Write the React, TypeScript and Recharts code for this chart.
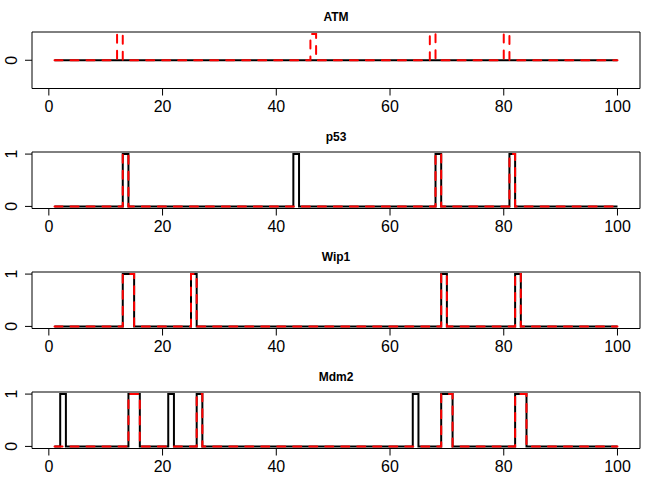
import React from "react";
import { LineChart, Line, XAxis, YAxis } from "recharts";

// time steps 1..100 on the x axis
const steps = Array.from({ length: 100 }, (_, i) => i + 1);
const xTicks = [0, 20, 40, 60, 80, 100];

// black = solid series, red = dashed series, one row per 10 steps
const atmBlack = [
  0, 0, 0, 0, 0, 0, 0, 0, 0, 0,
  0, 0, 0, 0, 0, 0, 0, 0, 0, 0,
  0, 0, 0, 0, 0, 0, 0, 0, 0, 0,
  0, 0, 0, 0, 0, 0, 0, 0, 0, 0,
  0, 0, 0, 0, 0, 0, 0, 0, 0, 0,
  0, 0, 0, 0, 0, 0, 0, 0, 0, 0,
  0, 0, 0, 0, 0, 0, 0, 0, 0, 0,
  0, 0, 0, 0, 0, 0, 0, 0, 0, 0,
  0, 0, 0, 0, 0, 0, 0, 0, 0, 0,
  0, 0, 0, 0, 0, 0, 0, 0, 0, 0,
];
const atmRed = [
  0, 0, 0, 0, 0, 0, 0, 0, 0, 0,
  0, 1, 0, 0, 0, 0, 0, 0, 0, 0,
  0, 0, 0, 0, 0, 0, 0, 0, 0, 0,
  0, 0, 0, 0, 0, 0, 0, 0, 0, 0,
  0, 0, 0, 0, 0, 1, 0, 0, 0, 0,
  0, 0, 0, 0, 0, 0, 0, 0, 0, 0,
  0, 0, 0, 0, 0, 0, 1, 0, 0, 0,
  0, 0, 0, 0, 0, 0, 0, 0, 0, 1,
  0, 0, 0, 0, 0, 0, 0, 0, 0, 0,
  0, 0, 0, 0, 0, 0, 0, 0, 0, 0,
];

const p53Black = [
  0, 0, 0, 0, 0, 0, 0, 0, 0, 0,
  0, 0, 1, 0, 0, 0, 0, 0, 0, 0,
  0, 0, 0, 0, 0, 0, 0, 0, 0, 0,
  0, 0, 0, 0, 0, 0, 0, 0, 0, 0,
  0, 0, 1, 0, 0, 0, 0, 0, 0, 0,
  0, 0, 0, 0, 0, 0, 0, 0, 0, 0,
  0, 0, 0, 0, 0, 0, 0, 1, 0, 0,
  0, 0, 0, 0, 0, 0, 0, 0, 0, 0,
  1, 0, 0, 0, 0, 0, 0, 0, 0, 0,
  0, 0, 0, 0, 0, 0, 0, 0, 0, 0,
];
const p53Red = [
  0, 0, 0, 0, 0, 0, 0, 0, 0, 0,
  0, 0, 1, 0, 0, 0, 0, 0, 0, 0,
  0, 0, 0, 0, 0, 0, 0, 0, 0, 0,
  0, 0, 0, 0, 0, 0, 0, 0, 0, 0,
  0, 0, 0, 0, 0, 0, 0, 0, 0, 0,
  0, 0, 0, 0, 0, 0, 0, 0, 0, 0,
  0, 0, 0, 0, 0, 0, 0, 1, 0, 0,
  0, 0, 0, 0, 0, 0, 0, 0, 0, 0,
  1, 0, 0, 0, 0, 0, 0, 0, 0, 0,
  0, 0, 0, 0, 0, 0, 0, 0, 0, 0,
];

const wip1Black = [
  0, 0, 0, 0, 0, 0, 0, 0, 0, 0,
  0, 0, 1, 1, 0, 0, 0, 0, 0, 0,
  0, 0, 0, 0, 1, 0, 0, 0, 0, 0,
  0, 0, 0, 0, 0, 0, 0, 0, 0, 0,
  0, 0, 0, 0, 0, 0, 0, 0, 0, 0,
  0, 0, 0, 0, 0, 0, 0, 0, 0, 0,
  0, 0, 0, 0, 0, 0, 0, 0, 1, 0,
  0, 0, 0, 0, 0, 0, 0, 0, 0, 0,
  0, 1, 0, 0, 0, 0, 0, 0, 0, 0,
  0, 0, 0, 0, 0, 0, 0, 0, 0, 0,
];
const wip1Red = [
  0, 0, 0, 0, 0, 0, 0, 0, 0, 0,
  0, 0, 1, 1, 0, 0, 0, 0, 0, 0,
  0, 0, 0, 0, 1, 0, 0, 0, 0, 0,
  0, 0, 0, 0, 0, 0, 0, 0, 0, 0,
  0, 0, 0, 0, 0, 0, 0, 0, 0, 0,
  0, 0, 0, 0, 0, 0, 0, 0, 0, 0,
  0, 0, 0, 0, 0, 0, 0, 0, 1, 0,
  0, 0, 0, 0, 0, 0, 0, 0, 0, 0,
  0, 1, 0, 0, 0, 0, 0, 0, 0, 0,
  0, 0, 0, 0, 0, 0, 0, 0, 0, 0,
];

const mdm2Black = [
  0, 1, 0, 0, 0, 0, 0, 0, 0, 0,
  0, 0, 0, 1, 1, 0, 0, 0, 0, 0,
  1, 0, 0, 0, 0, 1, 0, 0, 0, 0,
  0, 0, 0, 0, 0, 0, 0, 0, 0, 0,
  0, 0, 0, 0, 0, 0, 0, 0, 0, 0,
  0, 0, 0, 0, 0, 0, 0, 0, 0, 0,
  0, 0, 0, 1, 0, 0, 0, 0, 1, 1,
  0, 0, 0, 0, 0, 0, 0, 0, 0, 0,
  0, 1, 1, 0, 0, 0, 0, 0, 0, 0,
  0, 0, 0, 0, 0, 0, 0, 0, 0, 0,
];
const mdm2Red = [
  0, 0, 0, 0, 0, 0, 0, 0, 0, 0,
  0, 0, 0, 1, 1, 0, 0, 0, 0, 0,
  0, 0, 0, 0, 0, 1, 0, 0, 0, 0,
  0, 0, 0, 0, 0, 0, 0, 0, 0, 0,
  0, 0, 0, 0, 0, 0, 0, 0, 0, 0,
  0, 0, 0, 0, 0, 0, 0, 0, 0, 0,
  0, 0, 0, 0, 0, 0, 0, 0, 1, 1,
  0, 0, 0, 0, 0, 0, 0, 0, 0, 0,
  0, 1, 1, 0, 0, 0, 0, 0, 0, 0,
  0, 0, 0, 0, 0, 0, 0, 0, 0, 0,
];

const FONT = "'Liberation Sans', Arial, Helvetica, sans-serif";
const W = 672;
const H = 120;
const xDomain: [number, number] = [-2.96, 103.96];

const YTick = (props: any) => {
  const { x, y, payload } = props;
  return (
    <text
      x={x}
      y={y}
      transform={`rotate(-90, ${x}, ${y})`}
      textAnchor="middle"
      fontSize={16}
      fontFamily={FONT}
      fill="#000"
    >
      {payload.value}
    </text>
  );
};

type PanelProps = {
  title: string;
  black: number[];
  red: number[];
  yTicks: number[];
  yDomain: [number, number];
};

const Panel: React.FC<PanelProps> = ({ title, black, red, yTicks, yDomain }) => {
  const data = steps.map((t, i) => ({ t, black: black[i], red: red[i] }));
  return (
    <div style={{ position: "relative", width: W, height: H }}>
      <LineChart width={W} height={H} data={data} margin={{ top: 0, right: 0, bottom: 0, left: 0 }}>
        <XAxis
          dataKey="t"
          type="number"
          domain={xDomain}
          allowDataOverflow
          ticks={xTicks}
          interval={0}
          height={31.5}
          tickSize={7}
          tickMargin={5}
          axisLine={{ stroke: "#000" }}
          tickLine={{ stroke: "#000" }}
          tick={{ fill: "#000", fontSize: 16, fontFamily: FONT }}
        />
        <XAxis
          xAxisId="top"
          orientation="top"
          dataKey="t"
          type="number"
          domain={xDomain}
          allowDataOverflow
          height={32}
          tick={false}
          tickLine={false}
          axisLine={{ stroke: "#000" }}
        />
        <YAxis
          type="number"
          domain={yDomain}
          allowDataOverflow
          ticks={yTicks}
          interval={0}
          width={32}
          tickSize={7}
          tickMargin={8}
          axisLine={{ stroke: "#000" }}
          tickLine={{ stroke: "#000" }}
          tick={<YTick />}
        />
        <YAxis
          yAxisId="right"
          orientation="right"
          type="number"
          domain={yDomain}
          allowDataOverflow
          width={32}
          tick={false}
          tickLine={false}
          axisLine={{ stroke: "#000" }}
        />
        <Line
          dataKey="black"
          type="stepAfter"
          stroke="#000"
          strokeWidth={2}
          dot={false}
          activeDot={false}
          isAnimationActive={false}
        />
        <Line
          dataKey="red"
          type="stepAfter"
          stroke="#ff0000"
          strokeWidth={2}
          strokeDasharray="8 8"
          strokeLinecap="round"
          dot={false}
          activeDot={false}
          isAnimationActive={false}
        />
      </LineChart>
      <div
        style={{
          position: "absolute",
          left: 0,
          top: 10.5,
          width: W,
          textAlign: "center",
          fontFamily: FONT,
          fontWeight: "bold",
          fontSize: 12,
          lineHeight: "12px",
          color: "#000",
          pointerEvents: "none",
        }}
      >
        {title}
      </div>
    </div>
  );
};

export default function App() {
  return (
    <div style={{ position: "absolute", left: 0, top: 0, width: W, height: 480, background: "#fff" }}>
      <Panel title="ATM" black={atmBlack} red={atmRed} yTicks={[0]} yDomain={[-1.08, 1.08]} />
      <Panel title="p53" black={p53Black} red={p53Red} yTicks={[0, 1]} yDomain={[-0.04, 1.04]} />
      <Panel title="Wip1" black={wip1Black} red={wip1Red} yTicks={[0, 1]} yDomain={[-0.04, 1.04]} />
      <Panel title="Mdm2" black={mdm2Black} red={mdm2Red} yTicks={[0, 1]} yDomain={[-0.04, 1.04]} />
    </div>
  );
}
